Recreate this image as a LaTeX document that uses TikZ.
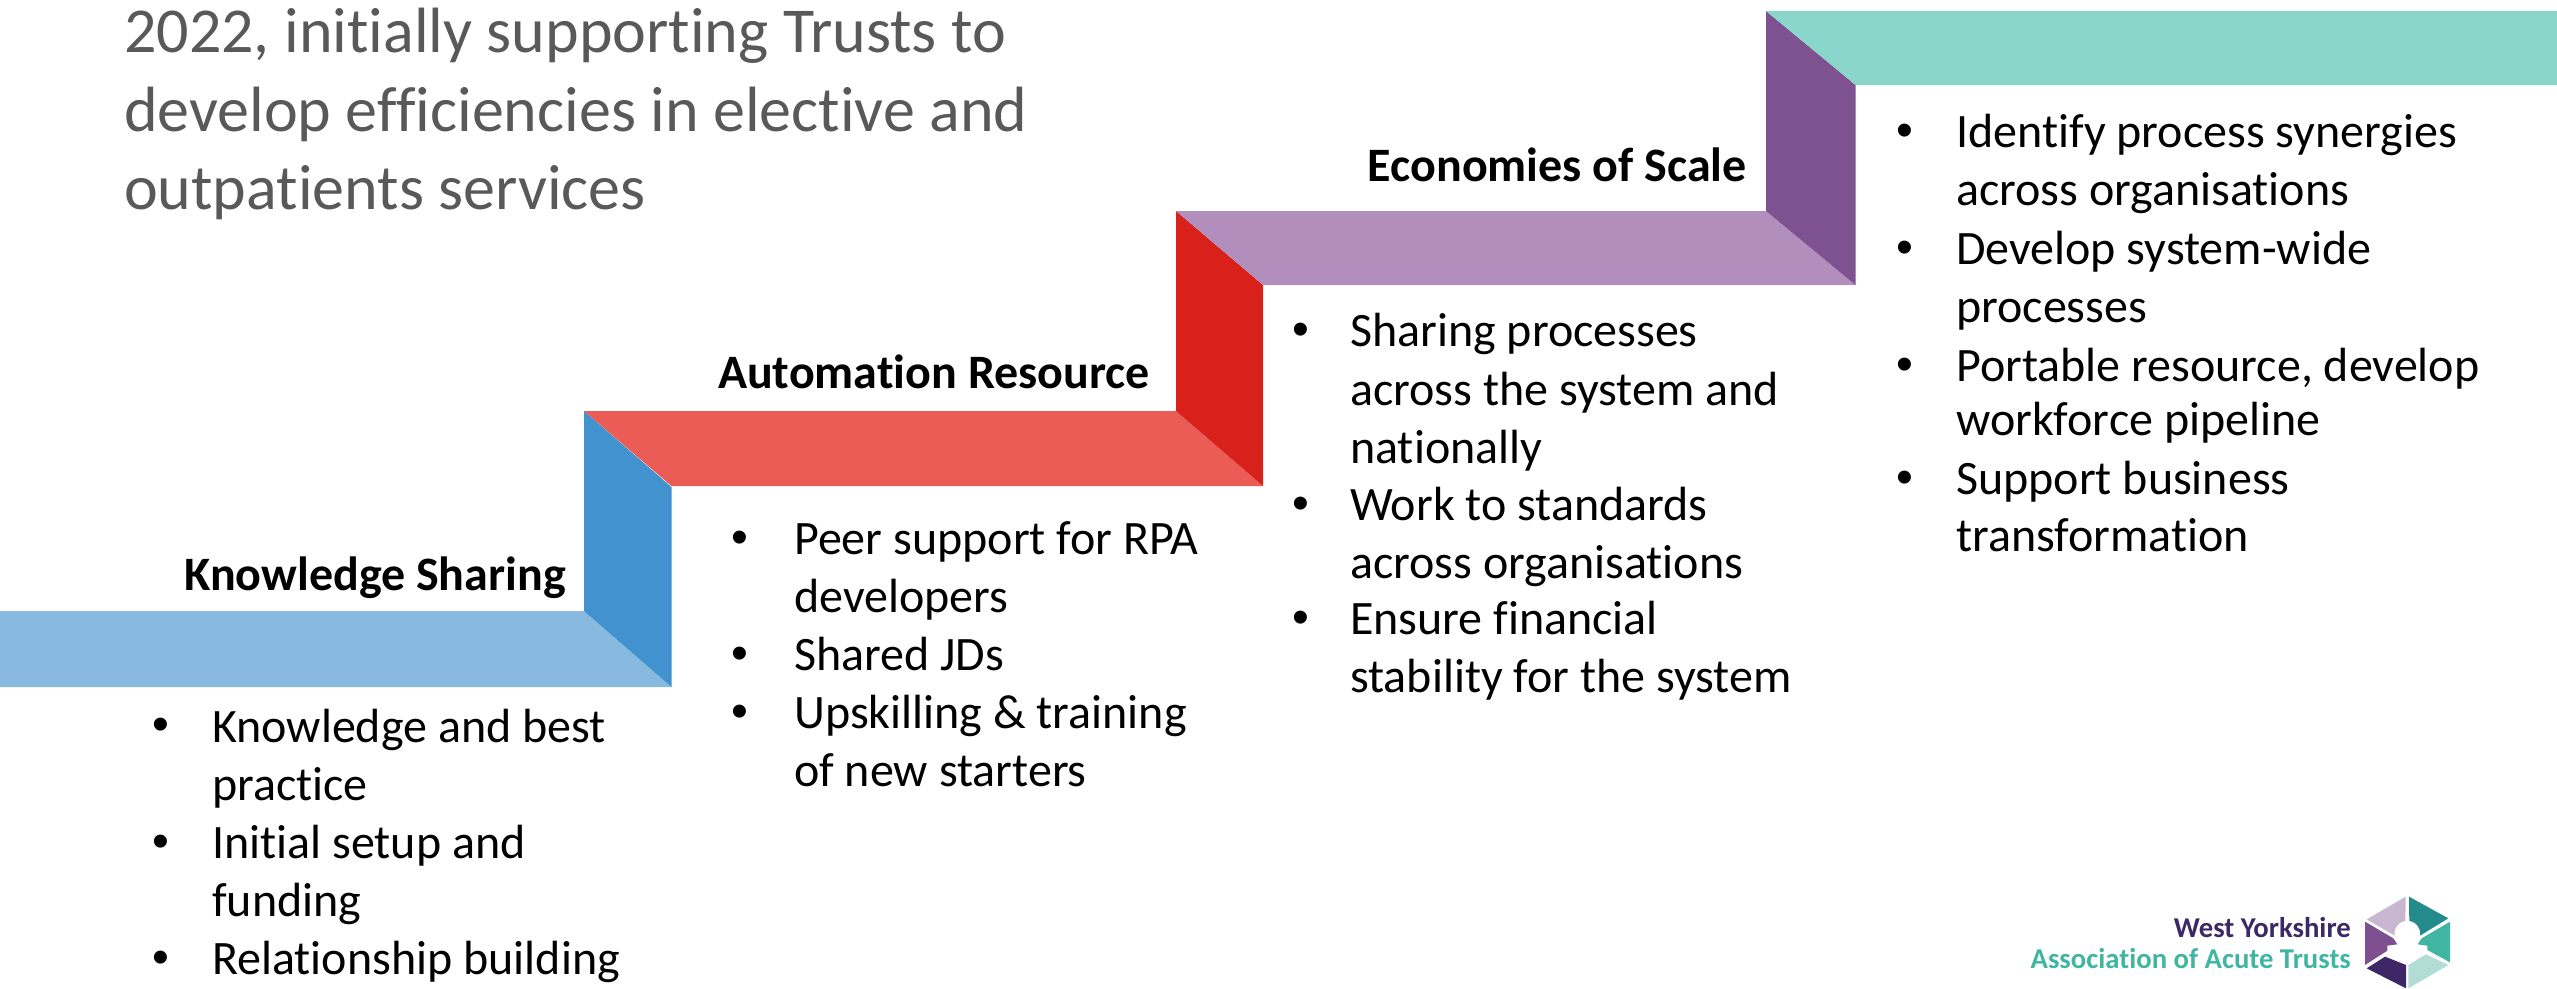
\documentclass[tikz,border=0pt]{standalone}
\usepackage{fontspec}
\setmainfont{Carlito}[Ligatures=CommonOff]
\newfontfamily\bulfont{Liberation Sans}
\definecolor{bandA}{HTML}{88BAE0}
\definecolor{riseA}{HTML}{4192CF}
\definecolor{bandB}{HTML}{EB5C56}
\definecolor{riseB}{HTML}{D9211B}
\definecolor{bandC}{HTML}{B28EBD}
\definecolor{riseC}{HTML}{7E5291}
\definecolor{bandD}{HTML}{8BD6CA}
\definecolor{greyT}{HTML}{595959}
\definecolor{logoP}{HTML}{3D2766}
\definecolor{logoM}{HTML}{7E5090}
\definecolor{logoL}{HTML}{C9B7D2}
\definecolor{logoT}{HTML}{238B8B}
\definecolor{logoG}{HTML}{40B6A2}
\definecolor{logoS}{HTML}{B2DDD6}
\tikzset{
  bodytxt/.style={anchor=base west,inner sep=0pt,font=\fontsize{48}{48}\selectfont,text=black},
  bul/.style={anchor=base,inner sep=0pt,font=\bulfont\fontsize{48}{48}\selectfont,text=black},
  headtxt/.style={anchor=base east,inner sep=0pt,font=\fontsize{48}{48}\selectfont\bfseries,text=black},
  greytxt/.style={anchor=base west,inner sep=0pt,font=\fontsize{64}{64}\selectfont,text=greyT},
  logotxt/.style={anchor=base east,inner sep=0pt,font=\fontsize{28.7}{29}\selectfont\bfseries},
}
\newcommand{\lineat}[4]{\node[bodytxt] (#1) at (#2,#3) {#4};}
\newcommand{\bulat}[3]{\node[bul] (#1) at (#2,#3) {•};}
\begin{document}
\begin{tikzpicture}[x=1pt,y=-1pt]
\useasboundingbox (0,0) rectangle (2557,988);
\fill[bandA] (0,611) -- (584,611) -- (671.5,687) -- (0,687) -- cycle;
\fill[riseA] (584,411) -- (671.5,487) -- (671.5,687) -- (584,611) -- cycle;
\fill[bandB] (584,411) -- (1176,411) -- (1263,486) -- (671.5,486) -- cycle;
\fill[riseB] (1176,211) -- (1263,285) -- (1263,486) -- (1176,411) -- cycle;
\fill[bandC] (1176,211) -- (1766,211) -- (1855.5,285) -- (1263,285) -- cycle;
\fill[riseC] (1766,11) -- (1855.5,85) -- (1855.5,285) -- (1766,211) -- cycle;
\fill[bandD] (1766,11) -- (2557,11) -- (2557,85) -- (1855.5,85) -- cycle;
% grey
\node[greytxt] (g1) at (124,52) {2022, initially supporting Trusts to};
\node[greytxt] (g2) at (124,131) {develop efficiencies in elective and};
\node[greytxt] (g3) at (124,209) {outpatients services};
% headings
\node[headtxt] (h1) at (566,590) {Knowledge Sharing};
\node[headtxt] (h2) at (1150,388) {Automation Resource};
\node[headtxt] (h3) at (1747,181) {Economies of Scale};
% list 1
\bulat{b11}{161}{740}\lineat{a1}{212}{742}{Knowledge and best}
\lineat{a2}{212}{800}{practice}
\bulat{b12}{161}{857}\lineat{a3}{212}{858}{Initial setup and}
\lineat{a4}{212}{916}{funding}
\bulat{b13}{161}{973}\lineat{a5}{212}{974}{Relationship building}
% list 2
\bulat{b21}{740}{553}\lineat{c1}{794}{554}{Peer support for RPA}
\lineat{c2}{794}{612}{developers}
\bulat{b22}{740}{669}\lineat{c3}{794}{670}{Shared JDs}
\bulat{b23}{740}{727}\lineat{c4}{794}{728}{Upskilling \& training}
\lineat{c5}{794}{786}{of new starters}
% list 3
\bulat{b31}{1301}{345}\lineat{d1}{1350}{346}{Sharing processes}
\lineat{d2}{1350}{405}{across the system and}
\lineat{d3}{1350}{463}{nationally}
\bulat{b32}{1301}{519}\lineat{d4}{1350}{520}{Work to standards}
\lineat{d5}{1350}{578}{across organisations}
\bulat{b33}{1301}{633}\lineat{d6}{1350}{634}{Ensure financial}
\lineat{d7}{1350}{692}{stability for the system}
% list 4
\bulat{b41}{1905}{146}\lineat{e1}{1956}{147}{Identify process synergies}
\lineat{e2}{1956}{205}{across organisations}
\bulat{b42}{1905}{263}\lineat{e3}{1956}{264}{Develop system-wide}
\lineat{e4}{1956}{322}{processes}
\bulat{b43}{1905}{380}\lineat{e5}{1956}{381}{Portable resource, develop}
\lineat{e6}{1956}{435}{workforce pipeline}
\bulat{b44}{1905}{493}\lineat{e7}{1956}{494}{Support business}
\lineat{e8}{1956}{551}{transformation}
% logo
\node[logotxt,text=logoP] (l1) at (2351,937) {West Yorkshire};
\node[logotxt,text=logoG] (l2) at (2351,968) {Association of Acute Trusts};
\begin{scope}[shift={(2350,885)},x=0.3333pt,y=-0.3333pt]
\fill[logoL] (167,35) -- (50,103) -- (134,152) arc[start angle=170,end angle=262,radius=38] -- cycle;
\fill[logoT] (177,35) -- (295,100) -- (210,152) arc[start angle=10,end angle=-82,radius=38] -- cycle;
\fill[logoG] (300,110) -- (215,160) -- (203,178) -- (232,182) -- (232,195) -- (300,232) -- cycle;
\fill[logoS] (295,240) -- (175,310) -- (175,240) -- (228,208) -- cycle;
\fill[logoP] (168,310) -- (50,250) -- (105,215) -- (168,240) -- cycle;
\fill[logoM] (45,110) -- (130,160) -- (142,178) -- (112,182) -- (112,197) -- (45,240) -- cycle;
\end{scope}
\end{tikzpicture}
\end{document}
